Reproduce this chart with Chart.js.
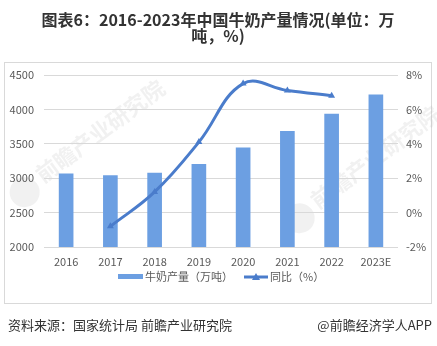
<!DOCTYPE html>
<html>
<head>
<meta charset="utf-8">
<script src="https://cdn.jsdelivr.net/npm/chart.js@4.4.1/dist/chart.umd.min.js"></script>
<style>
  html, body { margin: 0; padding: 0; background: #fff; }
  #wrap { width: 437px; height: 346px; }
</style>
</head>
<body>
<div id="wrap"><canvas id="grafico" width="437" height="346"></canvas></div>
<script>
// Dati: produzione di latte in Cina (万吨) e variazione annua (%)
const anni = ['2016', '2017', '2018', '2019', '2020', '2021', '2022', '2023E'];
const produzione = [3064, 3039, 3075, 3201, 3440, 3683, 3932, 4210];
const crescita = [null, -0.8, 1.2, 4.1, 7.5, 7.1, 6.8, null];

const titolo = ['图表6：2016-2023年中国牛奶产量情况(单位：万', '吨，%)'];
const nomeBarre = '牛奶产量（万吨）';
const nomeLinea = '同比（%）';
const fonte = '资料来源：国家统计局 前瞻产业研究院';
const firma = '@前瞻经济学人APP';
const filigrana = '前瞻产业研究院';

const coloreBarre = '#6c9fe2';
const coloreLinea = '#4a7ccb';
const fontCJK = '"Noto Sans CJK SC", "Microsoft YaHei", sans-serif';

// Filigrana chiara inclinata
function disegnaFiligrana(ctx, x, y) {
    ctx.save();
    ctx.translate(x, y);
    ctx.rotate(-0.64);
    ctx.fillStyle = 'rgba(170, 170, 170, 0.16)';
    ctx.beginPath();
    ctx.arc(-62, 4, 15, 0, Math.PI * 2);
    ctx.fill();
    ctx.font = 'bold 22px ' + fontCJK;
    ctx.textAlign = 'left';
    ctx.textBaseline = 'middle';
    ctx.fillText(filigrana, -42, 0);
    ctx.restore();
}

// Titolo, cornice, legenda e fonte disegnati direttamente sul canvas
const decorazioni = {
    id: 'decorazioni',
    beforeDraw(chart) {
        const ctx = chart.ctx;
        ctx.save();
        ctx.fillStyle = '#fff';
        ctx.fillRect(0, 0, chart.width, chart.height);
        ctx.strokeStyle = '#d9d9d9';
        ctx.lineWidth = 1;
        ctx.strokeRect(4.5, 62.5, 427, 241);
        ctx.restore();
        disegnaFiligrana(ctx, 72, 152);
        disegnaFiligrana(ctx, 347, 178);
    },
    afterDraw(chart) {
        const ctx = chart.ctx;
        ctx.save();

        // titolo
        ctx.fillStyle = '#333';
        ctx.font = 'bold 16px ' + fontCJK;
        ctx.textAlign = 'center';
        ctx.textBaseline = 'middle';
        ctx.fillText(titolo[0], 218, 20);
        ctx.fillText(titolo[1], 218, 36);

        // legenda
        ctx.font = '11px ' + fontCJK;
        ctx.fillStyle = coloreBarre;
        ctx.fillRect(118, 274, 25, 5);
        ctx.fillStyle = '#595959';
        ctx.textAlign = 'left';
        ctx.fillText(nomeBarre, 145, 277);

        ctx.strokeStyle = coloreLinea;
        ctx.lineWidth = 3;
        ctx.beginPath();
        ctx.moveTo(244, 277);
        ctx.lineTo(268, 277);
        ctx.stroke();
        ctx.fillStyle = coloreLinea;
        ctx.beginPath();
        ctx.moveTo(256, 273);
        ctx.lineTo(260, 280);
        ctx.lineTo(252, 280);
        ctx.closePath();
        ctx.fill();
        ctx.fillStyle = '#595959';
        ctx.fillText(nomeLinea, 270, 277);

        // fonte
        ctx.fillStyle = '#333';
        ctx.font = '13px ' + fontCJK;
        ctx.fillText(fonte, 8, 325);
        ctx.textAlign = 'right';
        ctx.fillText(firma, 432, 325);
        ctx.restore();
    }
};

const ctx = document.getElementById('grafico').getContext('2d');
new Chart(ctx, {
    type: 'bar',
    data: {
        labels: anni,
        datasets: [
            {
                type: 'line',
                label: nomeLinea,
                data: crescita,
                yAxisID: 'y1',
                borderColor: coloreLinea,
                backgroundColor: coloreLinea,
                borderWidth: 3,
                tension: 0.4,
                pointStyle: 'triangle',
                pointRadius: 4,
                pointBorderWidth: 0,
                order: 0
            },
            {
                label: nomeBarre,
                data: produzione,
                yAxisID: 'y',
                backgroundColor: coloreBarre,
                barThickness: 14,
                order: 1
            }
        ]
    },
    options: {
        responsive: false,
        animation: false,
        layout: { padding: { top: 75, bottom: 69, left: 0, right: 0 } },
        plugins: {
            legend: { display: false },
            title: { display: false },
            tooltip: { enabled: false }
        },
        scales: {
            x: {
                grid: { display: false },
                border: { display: false },
                ticks: {
                    color: '#595959',
                    font: { size: 11, family: fontCJK },
                    padding: 0,
                    maxRotation: 0,
                    minRotation: 0,
                    autoSkip: false
                },
                afterFit(scale) { scale.height = 30; }
            },
            y: {
                position: 'left',
                min: 2000,
                max: 4500,
                ticks: {
                    stepSize: 500,
                    color: '#595959',
                    font: { size: 11, family: fontCJK },
                    padding: 10,
                    callback: (v) => String(v)
                },
                grid: { color: '#d9d9d9', drawTicks: false },
                border: { display: false },
                afterFit(scale) { scale.width = 44; }
            },
            y1: {
                position: 'right',
                min: -2,
                max: 8,
                ticks: {
                    stepSize: 2,
                    color: '#595959',
                    font: { size: 11, family: fontCJK },
                    padding: 8,
                    callback: (v) => v + '%'
                },
                grid: { display: false, drawTicks: false },
                border: { display: false },
                afterFit(scale) { scale.width = 39; }
            }
        }
    },
    plugins: [decorazioni]
});
</script>
</body>
</html>
